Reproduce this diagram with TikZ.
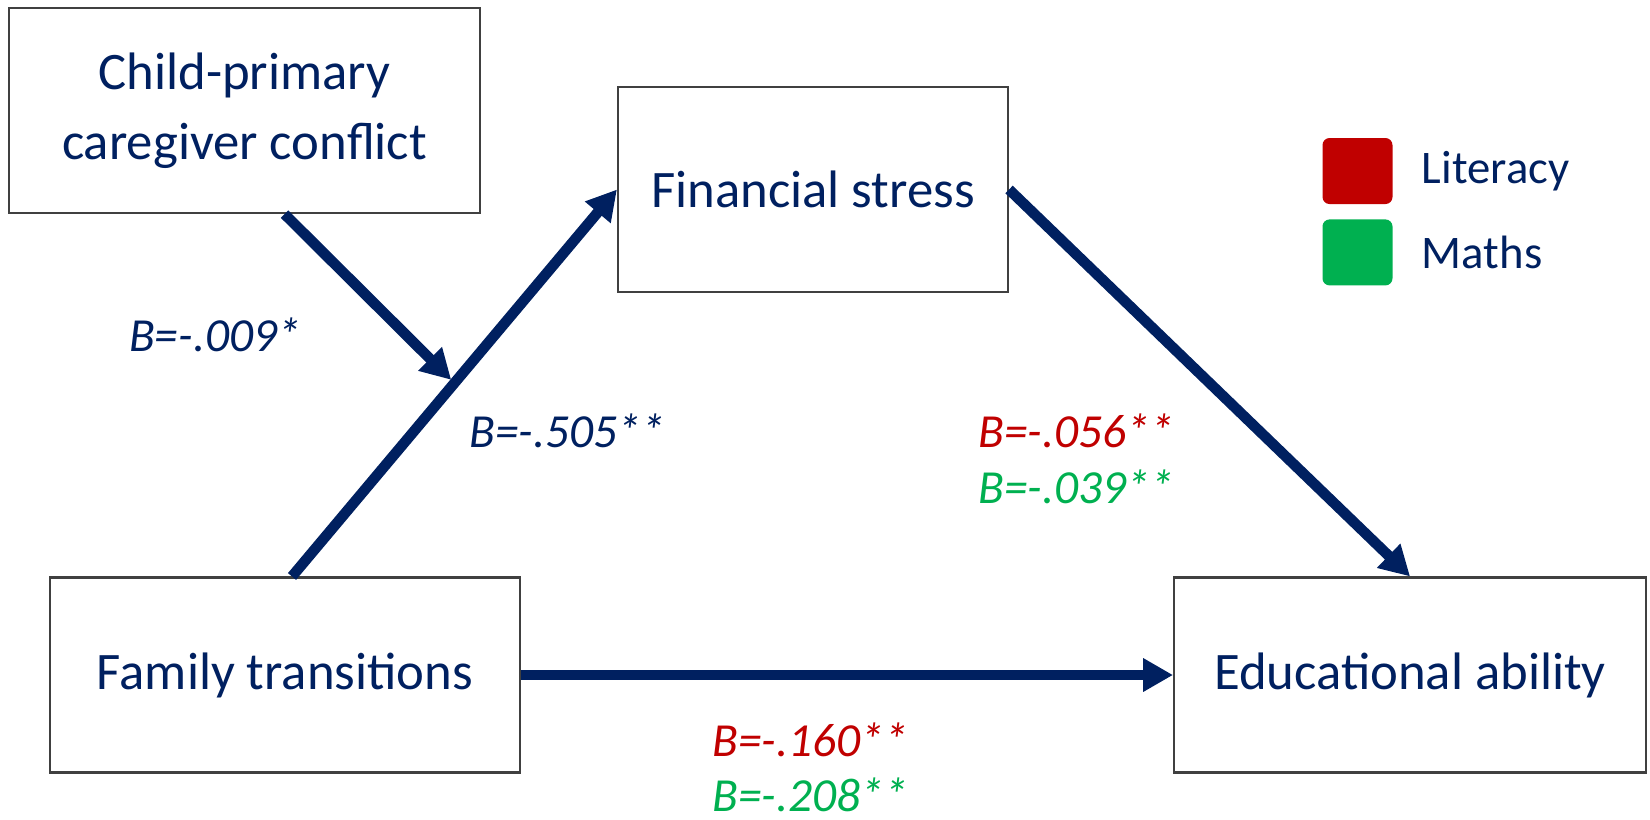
\documentclass[tikz,border=0pt]{standalone}
\usepackage{fontspec}
\setmainfont{Carlito}
\usetikzlibrary{arrows.meta, positioning}
\definecolor{navy}{HTML}{002060}
\definecolor{litred}{HTML}{C00000}
\definecolor{mathgreen}{HTML}{00B050}

\begin{document}
\begin{tikzpicture}[
  box/.style={draw=black!75, line width=0.6pt, align=center, text=navy,
    font=\fontsize{15}{20}\selectfont},
  arr/.style={-{Triangle[length=8.5pt, width=9pt]}, line width=3pt, navy},
  coef/.style={font=\fontsize{13.5}{16}\selectfont\itshape, inner sep=0pt},
  key/.style={rounded corners=2pt, minimum width=0.7cm, minimum height=0.66cm},
  keylabel/.style={text=navy, font=\fontsize{13.3}{16}\selectfont, inner sep=0pt}
]
  \useasboundingbox (0,0) rectangle (16.5,-8.19);

  \node[box, minimum width=4.71cm, minimum height=2.05cm] (child) at (2.445,-1.105)
    {Child-primary\\caregiver conflict};
  \node[box, minimum width=3.90cm, minimum height=2.05cm] (fin) at (8.13,-1.895)
    {Financial stress};
  \node[box, minimum width=4.70cm, minimum height=1.95cm] (fam) at (2.85,-6.75)
    {Family transitions};
  \node[box, minimum width=4.72cm, minimum height=1.95cm, right=6.52cm of fam] (edu)
    {Educational ability};

  \draw[arr] ([xshift=0.07cm]fam.north) -- (fin.west) coordinate[pos=0.49] (hit);
  \draw[arr] ([xshift=0.4cm]child.south) -- ([yshift=0.07cm]hit);
  \draw[arr] (fin.east) -- (edu.north);
  \draw[arr] (fam.east) -- (edu.west);

  \node[coef, text=navy] (cconf) at (2.15,-3.35) {B=-.009*};
  \node[coef, text=navy] (cfin) at (5.67,-4.31) {B=-.505**};
  \node[coef, text=litred] (cedulit) at (10.76,-4.31) {B=-.056**};
  \node[coef, text=mathgreen] (cedumath) at (10.76,-4.87) {B=-.039**};
  \node[coef, text=litred] (cfamlit) at (8.10,-7.40) {B=-.160**};
  \node[coef, text=mathgreen] (cfammath) at (8.10,-7.95) {B=-.208**};

  \node[key, fill=litred] (litkey) at (13.575,-1.71) {};
  \node[key, fill=mathgreen, below=0.14cm of litkey] (mathkey) {};
  \node[keylabel, right=0.28cm of litkey] (littext) {Literacy};
  \node[keylabel, right=0.28cm of mathkey] (mathtext) {Maths};
\end{tikzpicture}
\end{document}
